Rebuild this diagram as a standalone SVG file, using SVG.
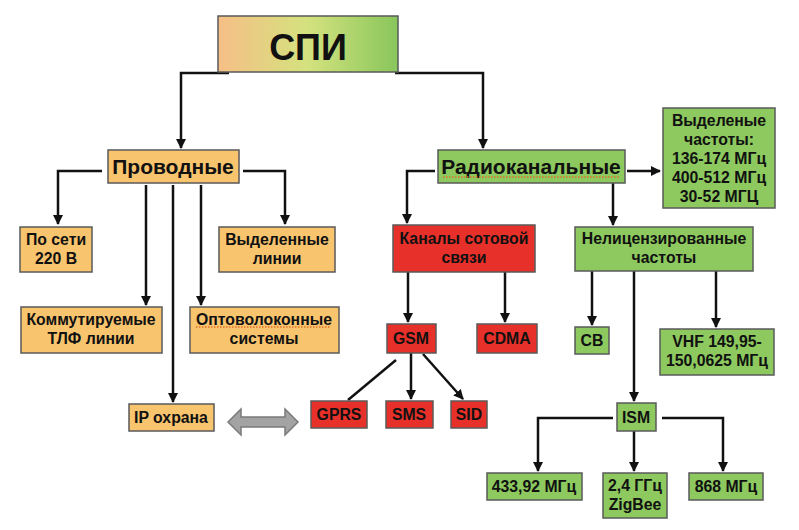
<svg xmlns="http://www.w3.org/2000/svg" width="799" height="530" viewBox="0 0 799 530">
<defs>
<linearGradient id="g1" x1="0" y1="0" x2="1" y2="0">
<stop offset="0" stop-color="#f6bf86"/>
<stop offset="0.5" stop-color="#d4e27e"/>
<stop offset="1" stop-color="#88c65c"/>
</linearGradient>
<marker id="ah" viewBox="0 0 10 10" refX="9" refY="5" markerWidth="4" markerHeight="4" orient="auto" markerUnits="strokeWidth">
<path d="M0,0 L10,5 L0,10 z" fill="#111"/>
</marker>
<style>
.b{stroke:#5a5a5a;stroke-width:1.5}
.o{fill:#f9c46e}
.g{fill:#8dc95e}
.r{fill:#e8302a}
.t{font-family:"Liberation Sans",Arial,sans-serif;font-weight:bold;font-size:15.8px;fill:#111;text-anchor:middle}
.c{fill:none;stroke:#111;stroke-width:2.5}
.a{marker-end:url(#ah)}
.sq{fill:none;stroke:#e0702a;stroke-width:1.5;stroke-dasharray:1.5 1.5}
</style>
</defs>
<rect width="799" height="530" fill="#ffffff"/>
<g id="connectors">
<path class="c a" d="M229,73 H181 V148"/>
<path class="c a" d="M395,73 H483 V148"/>
<path class="c a" d="M102,171 H58 V224"/>
<path class="c a" d="M243,171 H285 V224"/>
<path class="c a" d="M146,185 V305"/>
<path class="c a" d="M201,185 V305"/>
<path class="c a" d="M173,185 V402"/>
<path class="c a" d="M435,171 H407 V223"/>
<path class="c a" d="M627,171 H660"/>
<path class="c a" d="M613,183 V225"/>
<path class="c a" d="M408,272 V322"/>
<path class="c a" d="M505,272 V322"/>
<path class="c a" d="M592,271 V325"/>
<path class="c a" d="M716,271 V327"/>
<path class="c a" d="M634,271 V401"/>
<path class="c a" d="M411,353 V399"/>
<path class="c a" d="M423,354 L463,399"/>
<path class="c" d="M396,360 L348,400"/>
<path class="c a" d="M613,418 H538 V471"/>
<path class="c a" d="M662,418 H723 V471"/>
<path class="c a" d="M634,431 V471"/>
<polygon points="228,422 241,409 241,417 285,417 285,409 298,422 285,435 285,427 241,427 241,435" fill="#a3a3a3" stroke="#7a7a7a" stroke-width="1.5"/>
</g>
<g id="spi">
<rect x="218" y="16" width="180" height="56" fill="url(#g1)" class="b"/>
<text x="308" y="60" class="t" style="font-size:36px">СПИ</text>
</g>
<g id="provodnye">
<rect x="108" y="150" width="131" height="33" class="o b"/>
<text x="173" y="174" class="t" style="font-size:21px">Проводные</text>
</g>
<g id="po-seti">
<rect x="20" y="227" width="72" height="45" class="o b"/>
<text x="56" y="245" class="t">По сети</text>
<text x="56" y="264" class="t">220 В</text>
</g>
<g id="vydelennye-linii">
<rect x="219" y="227" width="116" height="45" class="o b"/>
<text x="277" y="245" class="t">Выделенные</text>
<text x="277" y="264" class="t">линии</text>
</g>
<g id="kommutiruemye">
<rect x="21" y="307" width="141" height="46" class="o b"/>
<text x="91" y="325" class="t">Коммутируемые</text>
<text x="91" y="344" class="t">ТЛФ линии</text>
</g>
<g id="optovolokonnye">
<rect x="190" y="307" width="149" height="46" class="o b"/>
<text x="264" y="325" class="t">Оптоволоконные</text>
<text x="264" y="344" class="t">системы</text>
<path class="sq" d="M196,327 H331"/>
</g>
<g id="ip-ohrana">
<rect x="129" y="404" width="85" height="27" class="o b"/>
<text x="171" y="423" class="t">IP охрана</text>
</g>
<g id="radiokanalnye">
<rect x="438" y="150" width="187" height="33" class="g b"/>
<text x="531" y="174" class="t" style="font-size:21px">Радиоканальные</text>
<path class="sq" d="M443,177 H620"/>
</g>
<g id="vydelenye-chastoty">
<rect x="663" y="108" width="112" height="100" class="g b"/>
<text x="719" y="126" class="t">Выделеные</text>
<text x="719" y="145" class="t">частоты:</text>
<text x="719" y="164" class="t">136-174 МГц</text>
<text x="719" y="183" class="t">400-512 МГц</text>
<text x="719" y="202" class="t">30-52 МГЦ</text>
</g>
<g id="kanaly">
<rect x="393" y="225" width="142" height="47" class="r b"/>
<text x="464" y="244" class="t">Каналы сотовой</text>
<text x="464" y="263" class="t">связи</text>
</g>
<g id="nelicenz">
<rect x="575" y="227" width="178" height="44" class="g b"/>
<text x="664" y="244" class="t">Нелицензированные</text>
<text x="664" y="263" class="t">частоты</text>
</g>
<g id="gsm">
<rect x="387" y="324" width="49" height="29" class="r b"/>
<text x="411" y="344" class="t">GSM</text>
</g>
<g id="cdma">
<rect x="477" y="324" width="60" height="29" class="r b"/>
<text x="507" y="344" class="t">CDMA</text>
</g>
<g id="gprs">
<rect x="311" y="401" width="56" height="27" class="r b"/>
<text x="339" y="420" class="t">GPRS</text>
</g>
<g id="sms">
<rect x="386" y="401" width="47" height="27" class="r b"/>
<text x="409" y="420" class="t">SMS</text>
</g>
<g id="sid">
<rect x="451" y="401" width="36" height="27" class="r b"/>
<text x="469" y="420" class="t">SID</text>
</g>
<g id="cb">
<rect x="575" y="327" width="34" height="27" class="g b"/>
<text x="592" y="346" class="t">СВ</text>
</g>
<g id="vhf">
<rect x="660" y="329" width="114" height="46" class="g b"/>
<text x="717" y="347" class="t">VHF 149,95-</text>
<text x="717" y="366" class="t">150,0625 МГц</text>
</g>
<g id="ism">
<rect x="617" y="403" width="39" height="28" class="g b"/>
<text x="636" y="423" class="t">ISM</text>
</g>
<g id="f433">
<rect x="487" y="473" width="95" height="27" class="g b"/>
<text x="534" y="492" class="t">433,92 МГц</text>
</g>
<g id="f24">
<rect x="603" y="473" width="64" height="45" class="g b"/>
<text x="635" y="491" class="t">2,4 ГГц</text>
<text x="635" y="510" class="t">ZigBee</text>
</g>
<g id="f868">
<rect x="689" y="473" width="74" height="27" class="g b"/>
<text x="726" y="492" class="t">868 МГц</text>
</g>
</svg>
